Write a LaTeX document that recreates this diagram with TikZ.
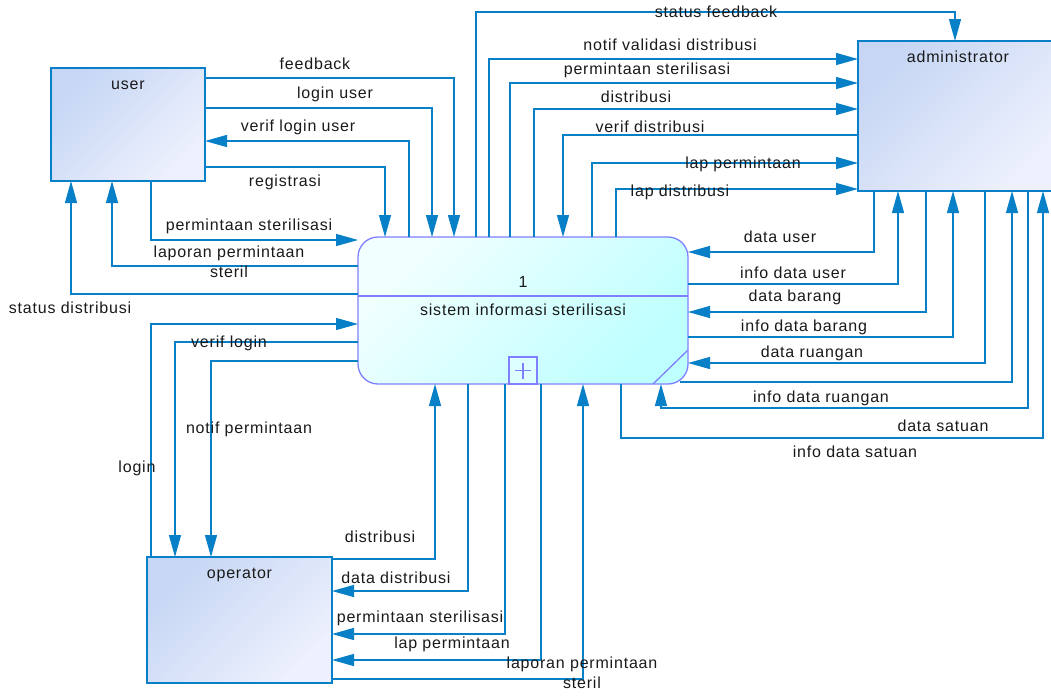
\documentclass[tikz,border=0pt]{standalone}
\usepackage{fontspec}
\setmainfont{Liberation Sans}
\newfontfamily\lblfont{Liberation Sans}[LetterSpace=5]
\usetikzlibrary{arrows.meta,calc}
\definecolor{lineblue}{RGB}{8,128,200}
\definecolor{entA}{RGB}{198,214,244}
\definecolor{entB}{RGB}{238,241,253}
\definecolor{procA}{RGB}{242,255,255}
\definecolor{procB}{RGB}{190,255,255}
\definecolor{procline}{RGB}{128,128,255}
\definecolor{txt}{RGB}{26,26,26}
\begin{document}
\begin{tikzpicture}[x=1pt,y=-1pt,
  flow/.style={draw=lineblue, line width=1.3pt, -{Triangle[length=22pt,width=12pt]}},
  lbl/.style={font={\lblfont\fontsize{16}{19.5}\selectfont}, text=txt, inner sep=0pt, text height=11.5pt, text depth=0pt, align=center},
  entity/.style={draw=lineblue, line width=1.3pt, left color=entA, right color=entB, shading angle=45, inner sep=0pt, outer sep=0pt},
  procbox/.style={draw=procline, line width=1.3pt, rounded corners=20pt, left color=procA, right color=procB, shading angle=45, inner sep=0pt, outer sep=0pt, minimum width=330pt, minimum height=147pt},
  entlbl/.style={lbl, anchor=center, yshift=-16pt}
]
\fill[white] (0,0) rectangle (1051,699);
\path[use as bounding box] (0,0) rectangle (1051,699);
\clip (0,0) rectangle (1051,699);

% nodes
\node[entity, minimum width=154pt, minimum height=113pt, label={[entlbl, name=userlbl]north:user}] (user) at (128,124.5) {};
\node[entity, minimum width=200pt, minimum height=150pt, label={[entlbl, name=adminlbl]north:administrator}] (admin) at (958,116) {};
\node[entity, minimum width=185pt, minimum height=126pt, label={[entlbl, name=oplbl]north:operator}] (operator) at (239.5,620) {};
\node[procbox] (proc) at (523,310.5) {};
\draw[procline, line width=1.3pt] (proc.west |- 0,296) -- (proc.east |- 0,296);
\draw[procline, line width=1.3pt] ([xshift=-35pt]proc.south east) -- ([yshift=34pt]proc.south east);
\node[draw=procline, line width=1.3pt, fill=procA!60!procB, minimum width=28pt, minimum height=27pt, inner sep=0pt, outer sep=0pt, anchor=south] (plus) at (proc.south) {};
\draw[procline, line width=1.3pt] ([xshift=-8pt]plus.center) -- ([xshift=8pt]plus.center);
\draw[procline, line width=1.3pt] ([yshift=-8pt]plus.center) -- ([yshift=8pt]plus.center);
\node[lbl] (pnum) at (523,282) {1};
\node[lbl] (pname) at (523,310) {sistem informasi sterilisasi};

% user flows
\draw[flow] (user.east |- 0,78) -| (proc.north -| 454,0);
\draw[flow] (user.east |- 0,108) -| (proc.north -| 432,0);
\draw[flow] (proc.north -| 409,0) |- (user.east |- 0,141);
\draw[flow] (user.east |- 0,167) -| (proc.north -| 385,0);
\draw[flow] (user.south -| 151,0) |- (proc.west |- 0,240);
\draw[flow] (proc.west |- 0,266) -| (user.south -| 112,0);
\draw[flow] (proc.west |- 0,294) -| (user.south -| 71,0);

% administrator top flows
\draw[flow] (proc.north -| 476,0) -- (476,12) -| (admin.north -| 955,0);
\draw[flow] (proc.north -| 489,0) |- (admin.west |- 0,59);
\draw[flow] (proc.north -| 510,0) |- (admin.west |- 0,83);
\draw[flow] (proc.north -| 534,0) |- (admin.west |- 0,109);
\draw[flow] (admin.west |- 0,135) -| (proc.north -| 563,0);
\draw[flow] (proc.north -| 592,0) |- (admin.west |- 0,163);
\draw[flow] (proc.north -| 616,0) |- (admin.west |- 0,189);

% administrator right flows
\draw[flow] (admin.south -| 874,0) |- (proc.east |- 0,252);
\draw[flow] (proc.east |- 0,284) -| (admin.south -| 898,0);
\draw[flow] (admin.south -| 926,0) |- (proc.east |- 0,312);
\draw[flow] (proc.east |- 0,337) -| (admin.south -| 953,0);
\draw[flow] (admin.south -| 985,0) |- (proc.east |- 0,363);
\draw[flow] ([xshift=-8pt,yshift=2pt]proc.south east) -| (admin.south -| 1012,0);
\draw[flow] (admin.south -| 1028,0) -- (1028,408) -| (proc.south -| 661,0);
\draw[flow] (proc.south -| 621,0) -- (621,438) -| (admin.south -| 1043,0);

% operator flows
\draw[flow] (operator.north -| 151,0) |- (proc.west |- 0,324);
\draw[flow] (proc.west |- 0,342) -| (operator.north -| 175,0);
\draw[flow] (proc.west |- 0,361) -| (operator.north -| 211,0);
\draw[flow] (operator.east |- 0,559) -| (proc.south -| 435,0);
\draw[flow] (proc.south -| 468,0) |- (operator.east |- 0,591);
\draw[flow] (proc.south -| 505,0) |- (operator.east |- 0,634);
\draw[flow] (proc.south -| 541,0) |- (operator.east |- 0,660);
\draw[flow] (operator.east |- 0,679) -| (proc.south -| 583,0);

% labels
\node[lbl] (t1) at (315,64) {feedback};
\node[lbl] (t2) at (335,93) {login user};
\node[lbl] (t3) at (298,126) {verif login user};
\node[lbl] (t4) at (285,181) {registrasi};
\node[lbl] (t5) at (249,225) {permintaan sterilisasi};
\node[lbl] (t6) at (229,271.5) {laporan permintaan\\steril};
\node[lbl] (t7) at (70,308) {status distribusi};
\node[lbl] (t8) at (716,12) {status feedback};
\node[lbl] (t9) at (670,45) {notif validasi distribusi};
\node[lbl] (t10) at (647,69) {permintaan sterilisasi};
\node[lbl] (t11) at (636,97) {distribusi};
\node[lbl] (t12) at (650,127) {verif distribusi};
\node[lbl] (t13) at (743,163) {lap permintaan};
\node[lbl] (t14) at (680,191) {lap distribusi};
\node[lbl] (t15) at (780,237) {data user};
\node[lbl] (t16) at (793,273) {info data user};
\node[lbl] (t17) at (795,296) {data barang};
\node[lbl] (t18) at (804,326) {info data barang};
\node[lbl] (t19) at (812,352) {data ruangan};
\node[lbl] (t20) at (821,397) {info data ruangan};
\node[lbl] (t21) at (943,426) {data satuan};
\node[lbl] (t22) at (855,452) {info data satuan};
\node[lbl] (t23) at (229,342) {verif login};
\node[lbl] (t24) at (249,428) {notif permintaan};
\node[lbl] (t25) at (137,467) {login};
\node[lbl] (t26) at (380,537) {distribusi};
\node[lbl] (t27) at (396,578) {data distribusi};
\node[lbl] (t28) at (420,617) {permintaan sterilisasi};
\node[lbl] (t29) at (452,643) {lap permintaan};
\node[lbl] (t30) at (582,682.5) {laporan permintaan\\steril};
\end{tikzpicture}
\end{document}
